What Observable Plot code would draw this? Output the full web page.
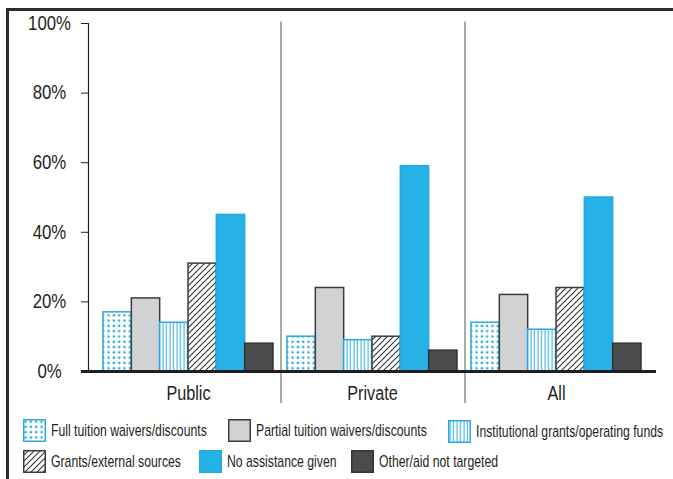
<!DOCTYPE html>
<html><head><meta charset="utf-8">
<script src="https://cdn.jsdelivr.net/npm/d3@7"></script>
<script src="https://cdn.jsdelivr.net/npm/@observablehq/plot@0.6"></script>
<style>
html,body{margin:0;padding:0;background:#fff;}
#wrap{position:relative;width:673px;height:479px;overflow:hidden;font-family:"Liberation Sans",Arial,sans-serif;color:#231f20;}
.bt{position:absolute;left:6px;top:7.5px;width:667px;height:3px;background:#2b2b2b;}
.bl{position:absolute;left:6px;top:7.5px;width:3px;height:472px;background:#2b2b2b;}
#chart{position:absolute;left:0;top:0;}
.leg{position:absolute;display:flex;align-items:center;font-size:17px;white-space:nowrap;line-height:23px;}
.leg svg{margin-right:5px;flex:none;}
.leg span{display:inline-block;transform:scaleX(0.72);transform-origin:0 50%;}
</style></head>
<body>
<svg width="0" height="0" style="position:absolute">
<defs>
<pattern id="p-dots" patternUnits="userSpaceOnUse" width="5.3" height="5.3"><rect width="5.3" height="5.3" fill="#fff"/><rect x="1.5" y="1.5" width="2.2" height="2.2" fill="#1fa7e0"/></pattern>
<pattern id="p-vert" patternUnits="userSpaceOnUse" width="3.5" height="10"><rect width="3.5" height="10" fill="#fff"/><rect x="1.5" y="0" width="1" height="10" fill="#29abe2"/></pattern>
<pattern id="p-hatch" patternUnits="userSpaceOnUse" width="6" height="6"><rect width="6" height="6" fill="#fff"/><path d="M0,6L6,0M-1.5,1.5L1.5,-1.5M4.5,7.5L7.5,4.5" stroke="#333" stroke-width="1.1"/></pattern>
</defs></svg>
<div id="wrap">
  <div id="chart"></div>
  <div class="bt"></div><div class="bl"></div>
</div>
<script>
const groups = ["Public", "Private", "All"];
const categories = [
  "Full tuition waivers/discounts",
  "Partial tuition waivers/discounts",
  "Institutional grants/operating funds",
  "Grants/external sources",
  "No assistance given",
  "Other/aid not targeted"
];
const fullTuition    = [17, 10, 14];
const partialTuition = [21, 24, 22];
const institutional  = [14, 9, 12];
const grantsExternal = [31, 10, 24];
const noAssistance   = [45, 59, 50];
const otherAid       = [8, 6, 8];
const yTicks = [0, 20, 40, 60, 80, 100];
const yTickLabels = ["0%", "20%", "40%", "60%", "80%", "100%"];

const series = [fullTuition, partialTuition, institutional, grantsExternal, noAssistance, otherAid];
const fills = ["url(#p-dots)", "#d1d2d4", "url(#p-vert)", "url(#p-hatch)", "#27b2e6", "#4a4b4d"];
const strokes = ["#29abe2", "#3c3c3c", "#29abe2", "#3c3c3c", "#1faae0", "#333333"];
const rows = groups.flatMap((g, i) => categories.map((c, j) => ({group: g, cat: c, value: series[j][i]})));

const FONT = '"Liberation Sans",Arial,sans-serif';
const XIN = 7, STEP = 184, BW = (STEP - 2 * XIN) / categories.length;
const AXIS_GAP = 8; // y axis sits left of the first group's band
const toFacetLeft = -(BW / 2 + XIN);

const chart = Plot.plot({
  width: 673, height: 410,
  marginTop: 23, marginBottom: 39, marginLeft: 96, marginRight: 25,
  style: {fontFamily: FONT, fontSize: "19px", color: "#231f20", background: "transparent", overflow: "visible"},
  fx: {domain: groups, paddingInner: 0, paddingOuter: 0, round: false},
  x: {domain: categories, padding: 0, insetLeft: XIN, insetRight: XIN, round: false, axis: null},
  y: {domain: [0, 100]},
  marks: [
    ...categories.map((c, j) => Plot.barY(rows, {
      filter: d => d.cat === c, fx: "group", x: "cat", y: "value",
      fill: fills[j], stroke: strokes[j], strokeWidth: 1.5
    })),
    // group separators
    Plot.ruleX(groups.slice(1), {fx: d => d, x: () => categories[0], y1: -9.2, y2: 100.4,
      stroke: "#8c8c8c", strokeWidth: 1.5, dx: toFacetLeft + 0.5}),
    // y axis line
    Plot.ruleX(groups.slice(0, 1), {fx: d => d, x: () => categories[0], y1: 0, y2: 100,
      stroke: "#231f20", strokeWidth: 1.2, dx: toFacetLeft - AXIS_GAP}),
    // baseline, one piece per group
    Plot.ruleY(groups.slice(0, 1), {fx: d => d, y: () => 0, insetLeft: -(AXIS_GAP + 7), stroke: "#231f20", strokeWidth: 3}),
    Plot.ruleY(groups.slice(1, 2), {fx: d => d, y: () => 0, stroke: "#231f20", strokeWidth: 3}),
    Plot.ruleY(groups.slice(2), {fx: d => d, y: () => 0, insetRight: -8, stroke: "#231f20", strokeWidth: 3}),
    Plot.axisY({ticks: yTicks, tickFormat: d => yTickLabels[yTicks.indexOf(d)], dx: -AXIS_GAP,
      tickSize: 7, tickPadding: 32, textAnchor: "middle", fontSize: 19.5, label: null,
      stroke: "#231f20", fill: "#231f20", className: "ytick"}),
    Plot.axisFx({anchor: "bottom", tickSize: 0, tickPadding: 15, fontSize: 19.5, label: null,
      fill: "#231f20", className: "fxtick"})
  ]
});
document.getElementById("chart").appendChild(chart);

// condensed look: compress glyphs horizontally (no condensed face installed)
function condense(sel, k) {
  chart.querySelectorAll(sel).forEach(t => {
    const len = t.getComputedTextLength();
    if (len > 0) {
      t.setAttribute("textLength", (len * k).toFixed(2));
      t.setAttribute("lengthAdjust", "spacingAndGlyphs");
    }
  });
}
condense(".ytick text", 0.86);
condense(".fxtick text", 0.83);

// legend
const legendPos = [[23, 419], [228, 419], [448, 420], [23, 450], [199, 450], [351, 450]];
const wrap = document.getElementById("wrap");
categories.forEach((c, j) => {
  const d = document.createElement("div");
  d.className = "leg";
  d.style.left = legendPos[j][0] + "px";
  d.style.top = legendPos[j][1] + "px";
  d.innerHTML = `<svg width="23" height="23"><rect x="0.75" y="0.75" width="21.5" height="21.5" fill="${fills[j]}" stroke="${strokes[j]}" stroke-width="1.5"/></svg><span>${c}</span>`;
  wrap.appendChild(d);
});
</script>
</body></html>
